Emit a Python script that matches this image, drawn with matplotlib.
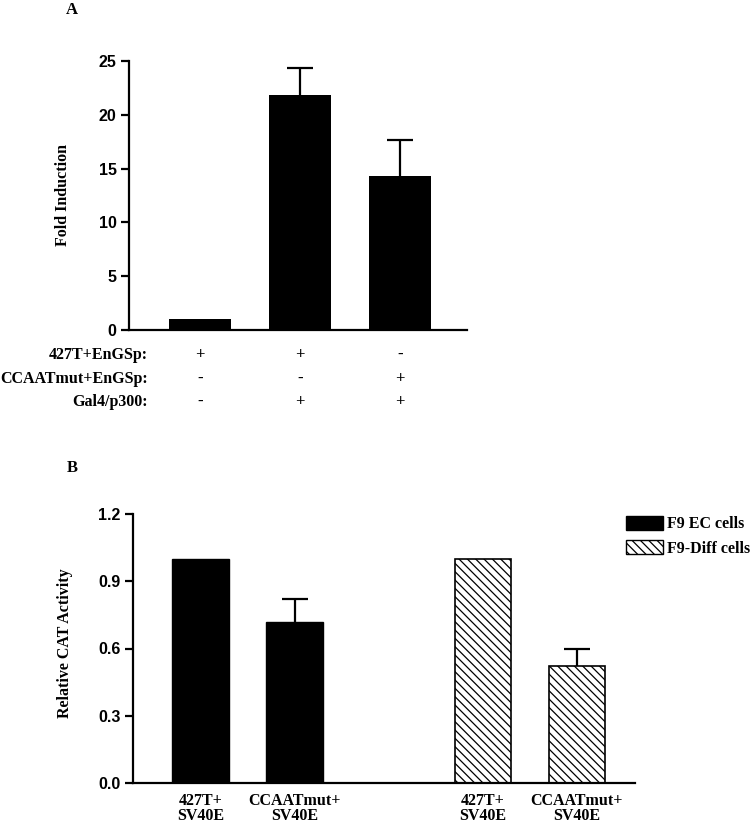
"""Two-panel bar figure: fold induction (A) and relative CAT activity (B)."""
import numpy as np
import matplotlib
matplotlib.use("Agg")
import matplotlib.pyplot as plt
from matplotlib.transforms import blended_transform_factory
from matplotlib.patches import Patch

# ---- panel A data ----
a_values = [1.0, 21.8, 14.3]
a_errors = [0.0, 2.55, 3.4]
a_rows = ["427T+EnGSp:", "CCAATmut+EnGSp:", "Gal4/p300:"]
a_signs = [["+", "+", "-"],
           ["-", "-", "+"],
           ["-", "+", "+"]]
a_yticks = [0, 5, 10, 15, 20, 25]

# ---- panel B data ----
b_labels = ["427T+\nSV40E", "CCAATmut+\nSV40E", "427T+\nSV40E", "CCAATmut+\nSV40E"]
b_values = [1.0, 0.72, 1.0, 0.52]
b_errors = [0.0, 0.10, 0.0, 0.08]
b_groups = ["F9 EC cells", "F9 EC cells", "F9-Diff cells", "F9-Diff cells"]
b_yticks = [0.0, 0.3, 0.6, 0.9, 1.2]

SERIF = "Liberation Serif"
SANS = "Liberation Sans"
HATCH = "\\\\\\\\"
plt.rcParams.update({
    "font.family": SERIF,
    "font.weight": "bold",
    "hatch.linewidth": 0.9,
    "axes.linewidth": 1.6,
})

W, H = 750, 823
fig = plt.figure(figsize=(W / 100, H / 100), dpi=100)


def px_axes(left, top, right, bottom):
    return fig.add_axes([left / W, 1 - bottom / H, (right - left) / W, (bottom - top) / H])


def style_axes(ax):
    for s in ["top", "right"]:
        ax.spines[s].set_visible(False)
    ax.tick_params(axis="y", direction="out", length=6, width=1.6, pad=3)
    ax.tick_params(axis="x", length=0)
    for lab in ax.get_yticklabels():
        lab.set_fontfamily(SANS)
        lab.set_fontweight("bold")
        lab.set_fontsize(11.5)


def upper_errors(ax, x, vals, errs, half):
    # one-sided error bars: stem from bar top plus a cap
    for xi, v, e in zip(x, vals, errs):
        if e <= 0:
            continue
        ax.vlines(xi, v, v + e, color="black", linewidth=1.6)
        ax.hlines(v + e, xi - half, xi + half, color="black", linewidth=1.6)


# ---------------- Panel A ----------------
axA = px_axes(129, 61, 467, 330)
xa = np.arange(len(a_values))
axA.bar(xa, a_values, width=0.62, color="black")
upper_errors(axA, xa, a_values, a_errors, 0.13)
axA.set_xlim(-0.71, 2.67)
axA.set_ylim(0, 25)
axA.set_yticks(a_yticks)
axA.set_xticks([])
style_axes(axA)

trA = blended_transform_factory(axA.transData, fig.transFigure)
row_y = [355, 379, 402]
for ry, name, signs in zip(row_y, a_rows, a_signs):
    fig.text(148 / W, 1 - ry / H, name, ha="right", va="center", fontsize=11.5)
    for xi, s in zip(xa, signs):
        axA.text(xi, 1 - ry / H, s, transform=trA, ha="center", va="center",
                 fontsize=12, clip_on=False)

fig.text(63 / W, 1 - 195 / H, "Fold Induction", rotation=90, ha="center",
         va="center", fontsize=11.5)
fig.text(72 / W, 1 - 10 / H, "A", ha="center", va="center", fontsize=12)

# ---------------- Panel B ----------------
axB = px_axes(133, 514, 635, 783)
xb = np.array([0, 1, 3, 4])
for xi, v, g in zip(xb, b_values, b_groups):
    if g == "F9 EC cells":
        axB.bar(xi, v, width=0.6, color="black", edgecolor="black")
    else:
        axB.bar(xi, v, width=0.6, color="white", edgecolor="black",
                hatch=HATCH, linewidth=1.2)
upper_errors(axB, xb, b_values, b_errors, 0.14)
axB.set_xlim(-0.72, 4.62)
axB.set_ylim(0, 1.2)
axB.set_yticks(b_yticks)
axB.set_yticklabels([f"{t:.1f}" for t in b_yticks])
axB.set_xticks(xb)
axB.set_xticklabels(b_labels, fontsize=11.5, linespacing=0.9)
style_axes(axB)
axB.tick_params(axis="x", pad=7)

handles = [Patch(facecolor="black", edgecolor="black", label="F9 EC cells"),
           Patch(facecolor="white", edgecolor="black", hatch=HATCH, label="F9-Diff cells")]
fig.legend(handles=handles, loc="upper left",
           bbox_to_anchor=(626 / W, 1 - 516 / H), frameon=False,
           prop={"family": SERIF, "weight": "bold", "size": 11.5},
           handlelength=2.3, handleheight=0.95, handletextpad=0.25,
           labelspacing=0.5, borderpad=0, borderaxespad=0)

fig.text(65 / W, 1 - 643 / H, "Relative CAT Activity", rotation=90, ha="center",
         va="center", fontsize=11.5)
fig.text(72 / W, 1 - 468 / H, "B", ha="center", va="center", fontsize=12)

fig.savefig("out.png", dpi=100, facecolor="white")
